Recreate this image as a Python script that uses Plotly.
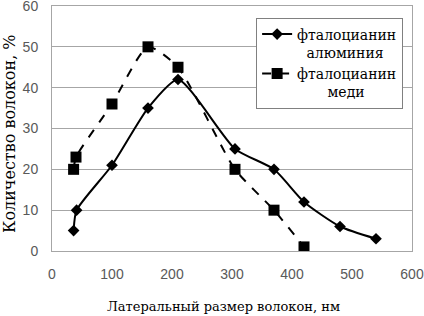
import plotly.graph_objects as go

al_x = [36, 41, 100, 160, 210, 305, 370, 420, 480, 540]
al_y = [5, 10, 21, 35, 42, 25, 20, 12, 6, 3]
cu_x = [36, 40, 100, 160, 210, 305, 370, 420]
cu_y = [20, 23, 36, 50, 45, 20, 10, 1]

Z = "\u200b"
SP = "\u2002" + Z
al_name = "фталоцианин<br>" + Z + SP + "\u2006" + Z + "алюминия"
cu_name = "фталоцианин<br>" + Z + SP * 4 + "\u2006" + Z + "меди"

x_title = "Латеральный размер волокон, нм"
y_title = "Количество волокон, %"

serif = "DejaVu Serif"
grid = "#a6a6a6"

fig = go.Figure()
fig.add_trace(go.Scatter(
    x=al_x, y=al_y, name=al_name, mode="lines+markers",
    line=dict(color="black", width=2, shape="spline", smoothing=0.6),
    marker=dict(symbol="diamond", size=9, color="black"),
))
fig.add_trace(go.Scatter(
    x=cu_x, y=cu_y, name=cu_name, mode="lines+markers",
    line=dict(color="black", width=2, dash="dash", shape="spline", smoothing=0.6),
    marker=dict(symbol="square", size=11, color="black"),
))

tickfont = dict(family="Liberation Sans", size=14, color="#595959")

fig.update_layout(
    width=424, height=316,
    margin=dict(l=52, r=12, t=6, b=65, autoexpand=False),
    paper_bgcolor="white", plot_bgcolor="white",
    showlegend=True,
    legend=dict(
        x=0.567, y=0.953, xanchor="left", yanchor="top",
        bgcolor="white", bordercolor="#808080", borderwidth=1,
        font=dict(family=serif, size=14, color="black"),
        tracegroupgap=0, valign="top",
    ),
    xaxis=dict(
        range=[0, 600], dtick=100, tick0=0, automargin=False,
        showgrid=False, showline=True, linecolor=grid, linewidth=1,
        mirror=True, ticks="outside", ticklen=10, tickcolor="rgba(0,0,0,0)",
        zeroline=False, ticklabeloverflow="allow",
        tickfont=tickfont,
    ),
    yaxis=dict(
        range=[0, 60], dtick=10, tick0=0, automargin=False,
        showgrid=True, gridcolor=grid, gridwidth=1,
        showline=True, linecolor=grid, linewidth=1, mirror=True,
        ticks="outside", ticklen=10, tickcolor="rgba(0,0,0,0)",
        zeroline=False, ticklabeloverflow="allow",
        tickfont=tickfont,
    ),
    annotations=[
        dict(text=x_title, xref="paper", yref="paper", x=(223 - 52) / 360, y=-(306 - 251) / 245,
             xanchor="center", yanchor="middle", showarrow=False,
             font=dict(family=serif, size=13, color="black")),
        dict(text=y_title, xref="paper", yref="paper", x=-(52 - 9) / 360, y=(251 - 134) / 245,
             xanchor="center", yanchor="middle", showarrow=False, textangle=-90,
             font=dict(family=serif, size=16, color="black")),
    ],
)

fig.write_html("out.html", config={"displayModeBar": False},
               post_script="document.body.style.margin='0';")
